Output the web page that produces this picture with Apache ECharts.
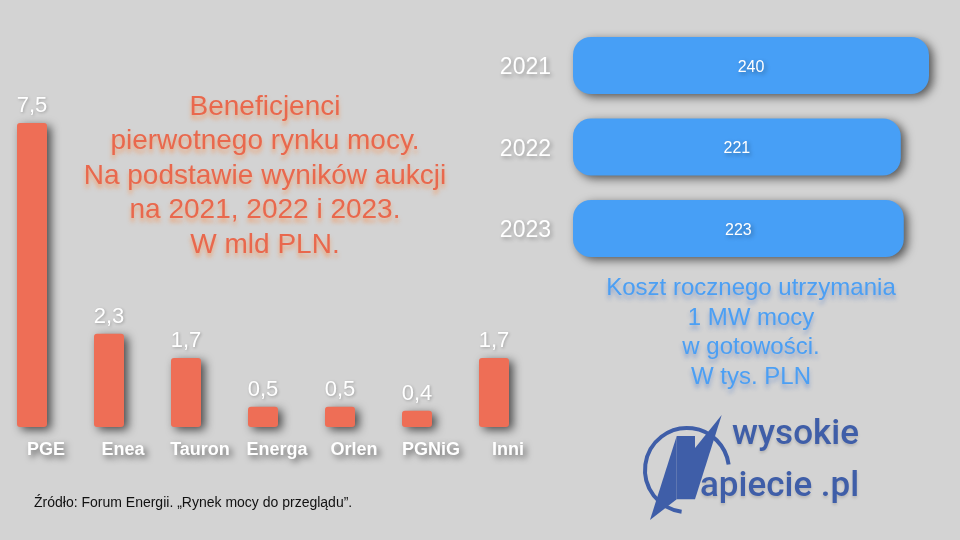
<!DOCTYPE html>
<html>
<head>
<meta charset="utf-8">
<script src="https://cdn.jsdelivr.net/npm/echarts@6/dist/echarts.min.js"></script>
<style>
  html, body { margin: 0; padding: 0; background: #d3d3d3; }
  #main { width: 960px; height: 540px; }
</style>
</head>
<body>
<div id="main"></div>
<script>
// beneficjenci - mld PLN
var firms = ['PGE', 'Enea', 'Tauron', 'Energa', 'Orlen', 'PGNiG', 'Inni'];
var firmValues = [7.5, 2.3, 1.7, 0.5, 0.5, 0.4, 1.7];
// koszt 1 MW - tys. PLN
var years = ['2021', '2022', '2023'];
var costValues = [240, 221, 223];

var FONT = '"Liberation Sans", Arial, sans-serif';
var orange = '#ee6e56';
var blue = '#479ff6';
var logoBlue = '#3f5ea8';

var chart = echarts.init(document.getElementById('main'), null, { renderer: 'canvas' });

var options = {
  backgroundColor: '#d3d3d3',
  animation: false,
  grid: [
    { left: -6.5, width: 539, top: 123, bottom: 113, outerBoundsMode: 'none', containLabel: false },
    { left: 573, right: 31, top: 24.75, height: 244.5, outerBoundsMode: 'none', containLabel: false }
  ],
  xAxis: [
    {
      type: 'category', gridIndex: 0, data: firms,
      axisLine: { show: false }, axisTick: { show: false },
      axisLabel: {
        interval: 0, hideOverlap: false,
        color: '#fff', fontFamily: FONT, fontWeight: 'bold', fontSize: 18, margin: 14,
        padding: [0, 0, 0, 28],
        textShadowColor: 'rgba(0,0,0,0.55)', textShadowBlur: 6, textShadowOffsetX: 3, textShadowOffsetY: 3
      }
    },
    {
      type: 'value', gridIndex: 1, min: 0, max: 240, show: false
    }
  ],
  yAxis: [
    { type: 'value', gridIndex: 0, min: 0, max: 7.5, show: false },
    {
      type: 'category', gridIndex: 1, data: years, inverse: true,
      axisLine: { show: false }, axisTick: { show: false },
      axisLabel: {
        interval: 0,
        color: '#fff', fontFamily: FONT, fontSize: 23, margin: 22,
        rich: {
          y: {
            fontFamily: FONT, fontSize: 23, color: '#fff', padding: [5, 0, 0, 0],
            textShadowColor: 'rgba(0,0,0,0.3)', textShadowBlur: 4, textShadowOffsetX: 2, textShadowOffsetY: 2
          }
        },
        formatter: '{y|{value}}'
      }
    }
  ],
  series: [
    {
      type: 'bar', xAxisIndex: 0, yAxisIndex: 0,
      data: firmValues,
      barWidth: 30,
      itemStyle: {
        color: orange, borderRadius: 3,
        shadowColor: 'rgba(0,0,0,0.65)', shadowBlur: 10, shadowOffsetX: 4, shadowOffsetY: 3
      },
      label: {
        show: true, position: 'top', distance: 6,
        color: '#fff', fontFamily: FONT, fontSize: 22,
        formatter: function (p) { return String(p.value).replace('.', ','); },
        textShadowColor: 'rgba(0,0,0,0.25)', textShadowBlur: 3, textShadowOffsetX: 1, textShadowOffsetY: 1
      }
    },
    {
      type: 'bar', xAxisIndex: 1, yAxisIndex: 1,
      data: costValues,
      barWidth: 57,
      itemStyle: {
        color: blue, borderRadius: 18,
        shadowColor: 'rgba(0,0,0,0.6)', shadowBlur: 10, shadowOffsetX: 4, shadowOffsetY: 3
      },
      label: {
        show: true, position: 'inside', offset: [0, 2],
        color: '#fff', fontFamily: FONT, fontSize: 16,
        textShadowColor: 'rgba(0,0,0,0.35)', textShadowBlur: 4, textShadowOffsetX: 2, textShadowOffsetY: 2
      }
    }
  ],
  graphic: [
    {
      type: 'text', x: 265, y: 90,
      style: {
        text: 'Beneficjenci\npierwotnego rynku mocy.\nNa podstawie wyników aukcji\nna 2021, 2022 i 2023.\nW mld PLN.',
        align: 'center', verticalAlign: 'top',
        fill: '#e9684d', font: '28px ' + FONT, lineHeight: 34.5,
        textShadowColor: 'rgba(245,150,90,0.75)', textShadowBlur: 4, textShadowOffsetY: 4
      }
    },
    {
      type: 'text', x: 751, y: 274,
      style: {
        text: 'Koszt rocznego utrzymania\n1 MW mocy\nw gotowości.\nW tys. PLN',
        align: 'center', verticalAlign: 'top',
        fill: '#4b9ff4', font: '24px ' + FONT, lineHeight: 29.5,
        textShadowColor: 'rgba(60,110,200,0.45)', textShadowBlur: 4, textShadowOffsetY: 4
      }
    },
    {
      type: 'text', x: 34, y: 496,
      style: {
        text: 'Źródło: Forum Energii. „Rynek mocy do przeglądu”.',
        fill: '#111', font: '14px ' + FONT
      }
    },
    // logo
    {
      type: 'arc', silent: true,
      shape: { cx: 687, cy: 470, r: 42, startAngle: 1.7, endAngle: 6.15, clockwise: true },
      style: { stroke: logoBlue, lineWidth: 4, fill: null }
    },
    {
      type: 'polygon', silent: true,
      shape: { points: [[676.7, 436], [695, 436], [695, 499.3], [676.7, 499.3]] },
      style: { fill: logoBlue }
    },
    {
      type: 'polygon', silent: true,
      shape: { points: [[676.7, 436], [650, 520], [676.7, 499.3]] },
      style: { fill: logoBlue }
    },
    {
      type: 'polygon', silent: true,
      shape: { points: [[721.7, 415], [695, 448], [695, 499.3]] },
      style: { fill: logoBlue }
    },
    {
      type: 'text', x: 732, y: 418,
      style: { text: 'wysokie', fill: logoBlue, font: '500 35px Roboto, sans-serif',
        textShadowColor: 'rgba(0,0,0,0.15)', textShadowBlur: 3, textShadowOffsetY: 2 }
    },
    {
      type: 'text', x: 700, y: 470,
      style: { text: 'apiecie .pl', fill: logoBlue, font: '500 35px Roboto, sans-serif',
        textShadowColor: 'rgba(0,0,0,0.15)', textShadowBlur: 3, textShadowOffsetY: 2 }
    }
  ]
};

chart.setOption(options);
</script>
</body>
</html>
